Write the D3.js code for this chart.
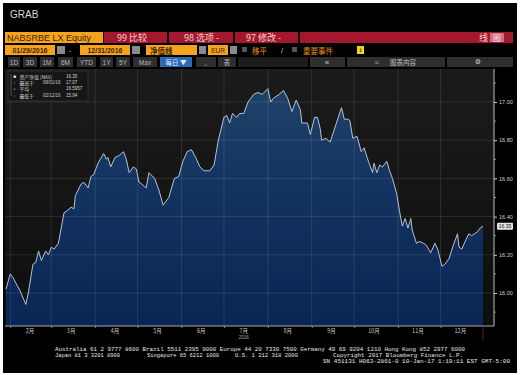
<!DOCTYPE html>
<html><head><meta charset="utf-8">
<script src="https://cdn.jsdelivr.net/npm/d3@7"></script>
<style>html,body{margin:0;padding:0;background:#fff;}svg{display:block;}</style>
</head><body><svg id="c" width="520" height="375"></svg>
<script>
const dates = ["2016-01-29","2016-02-01","2016-02-03","2016-02-08","2016-02-12","2016-02-14","2016-02-17","2016-02-19","2016-02-21","2016-02-23","2016-02-26","2016-02-28","2016-03-01","2016-03-03","2016-03-06","2016-03-10","2016-03-12","2016-03-15","2016-03-17","2016-03-18","2016-03-22","2016-03-24","2016-03-27","2016-03-29","2016-03-31","2016-04-03","2016-04-07","2016-04-09","2016-04-10","2016-04-12","2016-04-15","2016-04-18","2016-04-21","2016-04-23","2016-04-25","2016-04-28","2016-04-30","2016-05-02","2016-05-04","2016-05-07","2016-05-09","2016-05-13","2016-05-16","2016-05-19","2016-05-23","2016-05-27","2016-05-30","2016-06-02","2016-06-05","2016-06-08","2016-06-11","2016-06-14","2016-06-17","2016-06-21","2016-06-24","2016-06-27","2016-07-01","2016-07-03","2016-07-05","2016-07-07","2016-07-10","2016-07-12","2016-07-15","2016-07-18","2016-07-20","2016-07-22","2016-07-25","2016-07-28","2016-08-01","2016-08-03","2016-08-05","2016-08-09","2016-08-12","2016-08-15","2016-08-18","2016-08-21","2016-08-24","2016-08-25","2016-08-29","2016-08-31","2016-09-03","2016-09-05","2016-09-07","2016-09-08","2016-09-11","2016-09-14","2016-09-18","2016-09-22","2016-09-24","2016-09-27","2016-09-28","2016-09-30","2016-10-03","2016-10-06","2016-10-08","2016-10-11","2016-10-14","2016-10-15","2016-10-17","2016-10-19","2016-10-21","2016-10-24","2016-10-26","2016-10-28","2016-10-31","2016-11-02","2016-11-04","2016-11-06","2016-11-08","2016-11-10","2016-11-11","2016-11-14","2016-11-16","2016-11-19","2016-11-21","2016-11-24","2016-11-27","2016-11-29","2016-12-02","2016-12-04","2016-12-07","2016-12-10","2016-12-13","2016-12-14","2016-12-16","2016-12-19","2016-12-21","2016-12-23","2016-12-25","2016-12-27","2016-12-29","2016-12-31"];
const navValues = [16.02,16.10,16.08,16.01,15.94,16.01,16.15,16.16,16.22,16.17,16.22,16.20,16.24,16.23,16.26,16.42,16.43,16.45,16.44,16.51,16.57,16.58,16.55,16.61,16.62,16.68,16.73,16.70,16.71,16.66,16.71,16.72,16.74,16.70,16.63,16.66,16.65,16.58,16.57,16.55,16.63,16.60,16.54,16.46,16.50,16.60,16.61,16.69,16.74,16.75,16.71,16.66,16.64,16.64,16.67,16.80,16.92,16.93,16.89,16.94,16.92,16.94,16.94,17.00,17.02,17.04,17.05,17.04,17.07,17.00,17.02,17.04,17.06,17.02,16.95,17.01,16.96,16.89,16.89,16.83,16.92,16.92,16.86,16.80,16.81,16.79,16.88,16.97,16.91,16.91,16.90,16.81,16.82,16.74,16.76,16.69,16.63,16.68,16.63,16.67,16.66,16.69,16.64,16.60,16.52,16.43,16.35,16.39,16.34,16.39,16.33,16.26,16.27,16.26,16.25,16.21,16.26,16.23,16.14,16.15,16.18,16.25,16.31,16.24,16.23,16.28,16.31,16.30,16.31,16.32,16.34,16.35];
const yTicks = [16.00,16.20,16.40,16.60,16.80,17.00];
const yMinorTicks = [15.90,16.10,16.30,16.50,16.70,16.90,17.10];
const monthLabels = ["2月","3月","4月","5月","6月","7月","8月","9月","10月","11月","12月"];
const yearLabel = "2016";
const legendLabels = ["资产净值 (NAV)","最高于","平均","最低于"];
const legendDates = ["","08/01/16","","02/12/16"];
const legendValues = ["16.35","17.07","16.5957","15.94"];
const legendSymbols = ["■","↑","+","↓"];
const lastValueLabel = "16.35";
const footerLines = [
  "Australia 61 2 9777 8600 Brazil 5511 2395 9000 Europe 44 20 7330 7500 Germany 49 69 9204 1210 Hong Kong 852 2977 6000",
  "SN 451131 H063-2861-0 10-Jan-17  1:19:11 EST  GMT-5:00"
];
const footerLine2 = ["Japan 81 3 3201 8900","Singapore 65 6212 1000","U.S. 1 212 318 2000","Copyright 2017 Bloomberg Finance L.P."];

const svg = d3.select("#c");
const CJK = "'Noto Sans CJK SC','DejaVu Sans',sans-serif";
const SANS = "'Liberation Sans','DejaVu Sans',sans-serif";

svg.append("rect").attr("width",520).attr("height",375).attr("fill","#fff");
svg.append("rect").attr("x",3).attr("y",3).attr("width",514).attr("height",370).attr("fill","#000");

svg.append("text").attr("x",10).attr("y",18).text("GRAB").attr("fill","#d8d8d8")
  .attr("font-family",SANS).attr("font-size",10);

function box(x,y,w,h,fill){ return svg.append("rect").attr("x",x).attr("y",y).attr("width",w).attr("height",h).attr("fill",fill); }
function txt(x,y,s,fill,size,anchor,family,weight){
  return svg.append("text").attr("x",x).attr("y",y).text(s).attr("fill",fill).attr("font-size",size)
    .attr("text-anchor",anchor||"start").attr("font-family",family||CJK).attr("dominant-baseline","central")
    .attr("font-weight",weight||"normal");
}
// header row 1
box(5,32,98,11,"#f5a31c");
txt(7,37.5,"NABSRBE LX Equity","#3a2200",9,"start",SANS);
box(104,32,63,11,"#a3182c"); txt(117,37.5,"99 比较","#f4d4cc",9);
box(169,32,64,11,"#a3182c"); txt(184,37.5,"98 选项 -","#f4d4cc",9);
box(235,32,63,11,"#a3182c"); txt(246,37.5,"97 修改 -","#f4d4cc",9);
box(300,32,213,11,"#a3182c"); txt(488,37.5,"线","#f4d4cc",9,"end");
box(490,33,14,9,"#d07080"); txt(497,37.5,"图","#f8e0e0",8,"middle");

// header row 2
box(5,45,50,10,"#f5a31c"); txt(30,50,"01/29/2016","#3a2200",7,"middle",SANS,"bold");
box(57,46,8,8,"#8a8a8a");
txt(70,50,"-","#bbb",7,"middle",SANS);
box(80,45,50,10,"#f5a31c"); txt(105,50,"12/31/2016","#3a2200",7,"middle",SANS,"bold");
box(132,46,8,8,"#8a8a8a");
box(146,45,51,10,"#f5a31c"); txt(150,50,"净值线","#3a2200",7.5,"start",CJK,"bold");
box(199,46,7,8,"#8a8a8a");
box(208,45,20,10,"#f5a31c"); txt(218,50,"EUR","#3a2200",6.5,"middle",SANS);
box(230,46,7,8,"#8a8a8a");
box(242,47,5,5,"#555");
txt(252,50,"移平","#e8900f",7.5);
txt(282,50,"/","#ccc",7.5,"middle",SANS);
box(292,47,5,5,"#555");
txt(303,50,"重要事件","#e8900f",7.5);
box(357,46,7,8,"#f2d21a"); txt(360.5,50,"i","#3a2200",6,"middle",SANS,"bold");

// header row 3
const btns = [["1D",8,12],["3D",23,14],["1M",40,14],["6M",58,15],["YTD",77,19],["1Y",100,13],["5Y",116,14],["Max",133,24]];
btns.forEach(b=>{ box(b[1],57,b[2],10,"#2e2e2e"); txt(b[1]+b[2]/2,62,b[0],"#b8b8b8",6.5,"middle",SANS); });
box(160,57,32,10,"#2a68b8"); txt(176,62,"每日 ▼","#e8eef8",6.5,"middle");
box(196,57,20,10,"#2e2e2e"); txt(206,62,"⌞","#6aa0e0",7,"middle",SANS);
box(218,57,18,10,"#2e2e2e"); txt(227,62,"表","#b8b8b8",6.5,"middle");
box(238,57,70,10,"#1c1c1c");
box(310,57,35,10,"#2e2e2e"); txt(327,62,"«","#d0d0d0",8,"middle",SANS);
box(347,57,98,10,"#2e2e2e"); txt(377,62,"≈","#c0c0c0",7,"middle",SANS); txt(390,62,"图表内容","#c0c0c0",6.5,"start");
box(447,57,66,10,"#2e2e2e"); txt(478,62,"⚙","#d0d0d0",7,"middle","'DejaVu Sans',sans-serif");

// chart
const parse = d3.timeParse("%Y-%m-%d");
const series = dates.map((d,i)=>({date:parse(d), v:navValues[i]}));
const x = d3.scaleTime().domain([parse("2016-01-29"), parse("2016-12-31")]).range([6,483]);
const y = d3.scaleLinear().domain([16.00,17.00]).range([293,102]);
const plotTop = 69, plotBottom = 326, plotLeft = 5, plotRight = 494;

const defs = svg.append("defs");
const bg = defs.append("linearGradient").attr("id","bgG").attr("x1",0).attr("y1",0).attr("x2",0).attr("y2",1);
bg.append("stop").attr("offset","0%").attr("stop-color","#1b1b1b");
bg.append("stop").attr("offset","100%").attr("stop-color","#0e0e0e");
const ag = defs.append("linearGradient").attr("id","areaG").attr("gradientUnits","userSpaceOnUse")
  .attr("x1",0).attr("y1",y(17.07)).attr("x2",0).attr("y2",plotBottom);
ag.append("stop").attr("offset","0%").attr("stop-color","#1f4269");
ag.append("stop").attr("offset","45%").attr("stop-color","#123260");
ag.append("stop").attr("offset","100%").attr("stop-color","#0b2454");

svg.append("rect").attr("x",plotLeft).attr("y",plotTop).attr("width",plotRight-plotLeft).attr("height",plotBottom-plotTop).attr("fill","url(#bgG)");

const area = d3.area().x(d=>x(d.date)).y0(plotBottom).y1(d=>y(d.v));
svg.append("path").datum(series).attr("d",area).attr("fill","url(#areaG)");

const months = d3.timeMonth.range(parse("2016-02-01"), parse("2016-12-02"));
svg.append("g").selectAll("line").data(months).join("line")
  .attr("x1",d=>x(d)).attr("x2",d=>x(d)).attr("y1",plotTop).attr("y2",plotBottom)
  .attr("stroke","#ffffff").attr("stroke-opacity",0.1).attr("stroke-width",1);
svg.append("g").selectAll("line").data(yTicks).join("line")
  .attr("x1",plotLeft).attr("x2",plotRight).attr("y1",d=>y(d)).attr("y2",d=>y(d))
  .attr("stroke","#ffffff").attr("stroke-opacity",0.1).attr("stroke-width",1);

const line = d3.line().x(d=>x(d.date)).y(d=>y(d.v));
svg.append("path").datum(series).attr("d",line).attr("fill","none").attr("stroke","#b6c3d2").attr("stroke-width",1);

// right axis
const yAxis = d3.axisRight(y).tickValues(yTicks).tickFormat(d3.format(".2f")).tickSize(3).tickPadding(2);
const ga = svg.append("g").attr("transform",`translate(${plotRight},0)`).call(yAxis);
ga.select(".domain").remove();
ga.selectAll("line").attr("stroke","#cfcfcf");
ga.selectAll("text").attr("fill","#d0d0d0").attr("font-size",5.5).attr("font-family",SANS);
svg.append("g").selectAll("line").data(yMinorTicks).join("line")
  .attr("x1",plotRight).attr("x2",plotRight+2).attr("y1",d=>y(d)).attr("y2",d=>y(d)).attr("stroke","#888");
svg.append("line").attr("x1",plotRight).attr("x2",plotRight).attr("y1",plotTop).attr("y2",plotBottom).attr("stroke","#bdbdbd");
const lv = y(navValues[navValues.length-1]);
svg.append("rect").attr("x",497).attr("y",lv-3.5).attr("width",16).attr("height",7).attr("fill","#e6e6e6").attr("rx",1);
txt(505,lv,lastValueLabel,"#111",5.2,"middle",SANS);

// bottom axis
svg.append("line").attr("x1",plotLeft).attr("x2",plotRight).attr("y1",plotBottom).attr("y2",plotBottom).attr("stroke","#a8a8a8");
const xAxis = d3.axisBottom(x).tickValues(months).tickSize(2).tickFormat("");
const gx = svg.append("g").attr("transform",`translate(0,${plotBottom})`).call(xAxis);
gx.select(".domain").remove();
gx.selectAll("line").attr("stroke","#888");
const mids = months.map(m=>d3.timeDay.offset(m,14));
svg.append("g").selectAll("text").data(mids).join("text")
  .attr("x",d=>x(d)).attr("y",331).text((d,i)=>monthLabels[i]).attr("text-anchor","middle")
  .attr("dominant-baseline","central").attr("fill","#c8c8c8").attr("font-size",5.5).attr("font-family",CJK);
txt(x(parse("2016-07-15")),337.5,yearLabel,"#a8a8a8",4.5,"middle",SANS);
svg.append("line").attr("x1",483).attr("x2",483).attr("y1",326).attr("y2",340).attr("stroke","#6a2020");

// legend
box(8,71,80,30,"#161616").attr("stroke","#3a3a3a").attr("stroke-width",0.7);
legendLabels.forEach((l,i)=>{
  const yy = 76+i*6.4;
  txt(14.5,yy,legendSymbols[i],"#dcdcdc",i===0?5:4.2,"middle",SANS);
  txt(19.5,yy,l,"#d4d4d4",4.8,"start",CJK);
  txt(43,yy,legendDates[i],"#c8c8c8",4.5,"start",SANS);
  txt(66,yy,legendValues[i],"#d4d4d4",4.5,"start",SANS);
});
svg.append("line").attr("x1",11).attr("x2",11).attr("y1",74).attr("y2",96).attr("stroke","#777").attr("stroke-width",0.6);

// footer
const MONO = "'Liberation Mono','DejaVu Sans Mono',monospace";
svg.append("text").attr("x",55).attr("y",349).text(footerLines[0]).attr("fill","#e8e8e8").attr("font-size",5.8)
  .attr("font-family",MONO).attr("dominant-baseline","central").attr("textLength",410).attr("lengthAdjust","spacingAndGlyphs");
const f2x = [55,147,235,333], f2w = [65,72,63,130];
footerLine2.forEach((s,i)=>{
  svg.append("text").attr("x",f2x[i]).attr("y",355).text(s).attr("fill","#e8e8e8").attr("font-size",5.8)
   .attr("font-family",MONO).attr("dominant-baseline","central").attr("textLength",f2w[i]).attr("lengthAdjust","spacingAndGlyphs");
});
svg.append("text").attr("x",323).attr("y",361).text(footerLines[1]).attr("fill","#e8e8e8").attr("font-size",5.8)
  .attr("font-family",MONO).attr("dominant-baseline","central").attr("textLength",187).attr("lengthAdjust","spacingAndGlyphs");
</script></body></html>
